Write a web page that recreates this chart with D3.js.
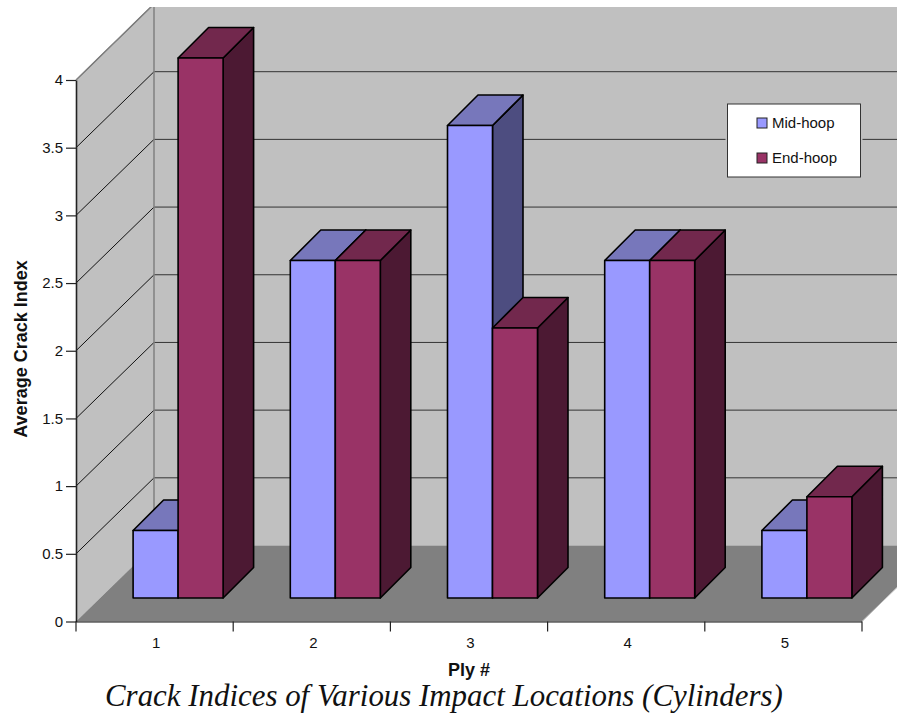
<!DOCTYPE html>
<html>

<head>
  <meta charset="utf-8" />
  <title>Crack Indices</title>
  <style>
    body {
      margin: 0;
      background: white;
    }

    svg {
      display: block;
    }

    text {
      font-family: "Liberation Sans", Arial, sans-serif;
      fill: #111;
    }

    .axis path,
    .axis line {
      stroke: #222;
      stroke-width: 1.2px;
    }

    .axis text {
      font-size: 15px;
    }

    .bar path {
      stroke: black;
      stroke-width: 1.6px;
      stroke-linejoin: round;
    }
  </style>
</head>

<body>
  <svg></svg>

  <script src="https://d3js.org/d3.v7.min.js"></script>
  <script>
    var plies = ["1", "2", "3", "4", "5"];
    var seriesNames = ["Mid-hoop", "End-hoop"];
    var midHoop = [0.5, 2.5, 3.5, 2.5, 0.5];
    var endHoop = [4, 2.5, 2, 2.5, 0.75];
    var yTicks = [0, 0.5, 1, 1.5, 2, 2.5, 3, 3.5, 4];

    var width = 897,
      height = 713;
    var wallDx = 78, wallDy = 76; // depth of the 3d box
    var barShiftX = 24, barShiftY = 23.5; // bars stand this far in from the front edge
    var barDepth = 30.5;
    var groupWidth = 90;

    var svg = d3.select("svg")
      .attr("width", width)
      .attr("height", height);

    // original picture is cut off at the top, so clip the box there
    svg.append("clipPath").attr("id", "box")
      .append("rect")
      .attr("x", 0).attr("y", 7)
      .attr("width", width).attr("height", height);

    var x = d3.scaleBand().domain(plies).range([75.5, 861.5]);
    var xSeries = d3.scaleBand().domain(seriesNames).range([0, groupWidth]);
    var xEdges = d3.scaleLinear().domain([0, plies.length]).range([75.5, 861.5]);
    var y = d3.scaleLinear().domain([0, 4]).range([621.5, 80]);
    // bars stand on the inset baseline
    var yBar = d3.scaleLinear().domain([0, 4]).range([621.5 - barShiftY, 58]);

    var poly = d3.line();
    var box = svg.append("g").attr("clip-path", "url(#box)");

    // back wall
    box.append("rect")
      .attr("x", 76 + wallDx)
      .attr("y", y(4) - wallDy)
      .attr("width", width)
      .attr("height", y(0) - y(4))
      .attr("fill", "#c0c0c0");

    // side wall
    box.append("path")
      .attr("d", poly([[76, y(0)], [76, y(4)], [76 + wallDx, y(4) - wallDy], [76 + wallDx, y(0) - wallDy]]) + "Z")
      .attr("fill", "#c0c0c0");

    // floor
    box.append("path")
      .attr("d", poly([[76, y(0)], [862, y(0)], [862 + wallDx, y(0) - wallDy], [76 + wallDx, y(0) - wallDy]]) + "Z")
      .attr("fill", "#808080");

    // gridlines
    var grid = yTicks.filter(d => d > 0);
    box.selectAll(".side-grid")
      .data(grid)
      .enter()
      .append("line")
      .attr("x1", 76)
      .attr("y1", d => y(d))
      .attr("x2", 76 + wallDx)
      .attr("y2", d => y(d) - wallDy)
      .attr("stroke", "#111")
      .attr("stroke-width", 1);
    box.selectAll(".back-grid")
      .data(grid)
      .enter()
      .append("line")
      .attr("x1", 76 + wallDx)
      .attr("y1", d => y(d) - wallDy)
      .attr("x2", width)
      .attr("y2", d => y(d) - wallDy)
      .attr("stroke", "#333")
      .attr("stroke-width", 1);

    // wall edges
    box.append("path")
      .attr("d", poly([[76, y(4)], [76 + wallDx, y(4) - wallDy], [76 + wallDx, y(0) - wallDy]]))
      .attr("fill", "none")
      .attr("stroke", "#808080")
      .attr("stroke-width", 1.5);
    box.append("path")
      .attr("d", poly([[862, y(0)], [862 + wallDx, y(0) - wallDy]]))
      .attr("stroke", "#c0c0c0")
      .attr("stroke-width", 1);

    // bars
    var colors = {
      "Mid-hoop": { front: "#9999ff", top: "#7777bb", side: "#4d4d80" },
      "End-hoop": { front: "#993366", top: "#72284d", side: "#4c1933" }
    };
    var bars = [];
    plies.forEach(function (p, i) {
      bars.push({ ply: p, name: seriesNames[0], value: midHoop[i] });
      bars.push({ ply: p, name: seriesNames[1], value: endHoop[i] });
    });

    var barGroups = box.selectAll(".bar")
      .data(bars)
      .enter()
      .append("g")
      .attr("class", "bar");

    function barLeft(d) {
      return x(d.ply) + (x.bandwidth() - groupWidth) / 2 + barShiftX + xSeries(d.name);
    }

    barGroups.append("path")
      .attr("fill", d => colors[d.name].side)
      .attr("d", function (d) {
        var r = barLeft(d) + xSeries.bandwidth();
        return poly([[r, yBar(d.value)], [r + barDepth, yBar(d.value) - barDepth], [r + barDepth, yBar(0) - barDepth], [r, yBar(0)]]) + "Z";
      });
    barGroups.append("path")
      .attr("fill", d => colors[d.name].top)
      .attr("d", function (d) {
        var l = barLeft(d), r = l + xSeries.bandwidth(), t = yBar(d.value);
        return poly([[l, t], [l + barDepth, t - barDepth], [r + barDepth, t - barDepth], [r, t]]) + "Z";
      });
    barGroups.append("path")
      .attr("fill", d => colors[d.name].front)
      .attr("d", function (d) {
        var l = barLeft(d), r = l + xSeries.bandwidth();
        return poly([[l, yBar(d.value)], [r, yBar(d.value)], [r, yBar(0)], [l, yBar(0)]]) + "Z";
      });

    // axes
    svg.append("g")
      .attr("class", "axis")
      .attr("transform", "translate(76,0)")
      .call(d3.axisLeft(y).tickValues(yTicks).tickSize(10).tickSizeOuter(0).tickPadding(3).tickFormat(d => d))
      .call(g => g.select(".domain").attr("stroke", "#555").style("stroke-width", "1.6px"));

    svg.append("g")
      .attr("class", "axis")
      .attr("transform", "translate(0," + y(0) + ")")
      .call(d3.axisBottom(xEdges).ticks(plies.length).tickSize(10).tickSizeOuter(0).tickFormat(""))
      .call(g => g.select(".domain").style("stroke", "#111"));

    svg.append("g")
      .attr("class", "axis")
      .attr("transform", "translate(2," + y(0) + ")")
      .call(d3.axisBottom(x).tickSize(0).tickPadding(16))
      .call(g => g.select(".domain").remove());

    // axis titles and caption
    svg.append("text")
      .attr("transform", "translate(27,349) rotate(-90)")
      .attr("text-anchor", "middle")
      .style("font-size", "18px")
      .style("font-weight", "bold")
      .text("Average Crack Index");
    svg.append("text")
      .attr("x", 469)
      .attr("y", 676)
      .attr("text-anchor", "middle")
      .style("font-size", "18px")
      .style("font-weight", "bold")
      .text("Ply #");
    svg.append("text")
      .attr("x", 105)
      .attr("y", 706)
      .style("font-family", '"Liberation Serif", "Times New Roman", serif')
      .style("font-style", "italic")
      .style("font-size", "30.9px")
      .text("Crack Indices of Various Impact Locations (Cylinders)");

    // legend
    var legend = svg.append("g");
    legend.append("rect")
      .attr("x", 727.5).attr("y", 104)
      .attr("width", 133).attr("height", 73)
      .attr("fill", "white")
      .attr("stroke", "#c0c0c0")
      .attr("stroke-width", 4);
    legend.append("rect")
      .attr("x", 727.5).attr("y", 104)
      .attr("width", 133).attr("height", 73)
      .attr("fill", "white")
      .attr("stroke", "#333")
      .attr("stroke-width", 1);
    var items = legend.selectAll(".item")
      .data(seriesNames)
      .enter()
      .append("g")
      .attr("class", "item")
      .attr("transform", (d, i) => "translate(757," + (123 + i * 35) + ")");
    items.append("rect")
      .attr("x", 0).attr("y", -5)
      .attr("width", 10).attr("height", 10)
      .attr("fill", d => colors[d].front)
      .attr("stroke", "#222")
      .attr("stroke-width", 1);
    items.append("text")
      .attr("x", 15)
      .attr("y", 5)
      .style("font-size", "15px")
      .text(d => d);
  </script>
</body>

</html>
